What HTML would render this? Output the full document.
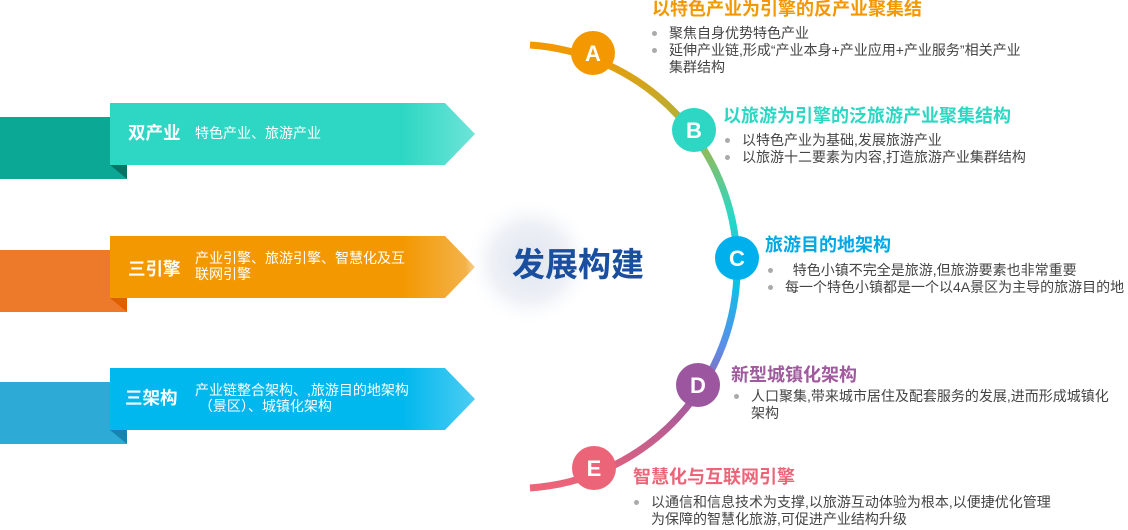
<!DOCTYPE html>
<html><head><meta charset="utf-8"><style>
body{margin:0;width:1128px;height:530px;background:#fff;position:relative;overflow:hidden;font-family:"Liberation Sans","Noto Sans CJK SC",sans-serif}
.a{position:absolute}
.t{font-weight:bold;font-size:18px;white-space:nowrap;line-height:20px}
.l{font-size:14px;color:#444;line-height:17px}
.l div{position:relative;padding-left:17px}
.l div:before{content:"";position:absolute;left:0;top:6px;width:5px;height:5px;border-radius:50%;background:#aaa}
.lab{color:#fff;font-weight:bold;font-size:17.5px;white-space:nowrap;line-height:20px}
.desc{color:#fff;font-size:14px;line-height:16px;white-space:nowrap}
</style></head><body>
<svg class="a" style="left:0;top:0" width="1128" height="530">
<defs>
<linearGradient id="g1" x1="0" x2="1"><stop offset="0.8" stop-color="#2dd7c3"/><stop offset="1" stop-color="#6ee4d8"/></linearGradient>
<linearGradient id="g2" x1="0" x2="1"><stop offset="0.8" stop-color="#f39800"/><stop offset="1" stop-color="#f3b654"/></linearGradient>
<linearGradient id="g3" x1="0" x2="1"><stop offset="0.8" stop-color="#00b7ee"/><stop offset="1" stop-color="#4ccdf2"/></linearGradient>
<linearGradient id="arc" x1="0" y1="0" x2="0" y2="1"><stop offset="0" stop-color="#f39800"/><stop offset="0.2" stop-color="#aab440"/><stop offset="0.38" stop-color="#2dd7c3"/><stop offset="0.52" stop-color="#00c8e8"/><stop offset="0.68" stop-color="#5b8ee8"/><stop offset="0.8" stop-color="#a05a9e"/><stop offset="1" stop-color="#ee6478"/></linearGradient>
<radialGradient id="glow"><stop offset="0" stop-color="#dfe4ee"/><stop offset="0.6" stop-color="#eef1f6"/><stop offset="1" stop-color="#fff" stop-opacity="0"/></radialGradient>
</defs>
<rect x="0" y="117" width="127" height="62" fill="#0ba995"/>
<polygon points="110,165 127,165 127,179" fill="#067565"/>
<polygon points="110,103 445,103 475,134 445,165 110,165" fill="url(#g1)"/>
<rect x="0" y="250" width="127" height="62" fill="#ec7a2a"/>
<polygon points="110,298 127,298 127,312" fill="#e06000"/>
<polygon points="110,236 445,236 475,267 445,298 110,298" fill="url(#g2)"/>
<rect x="0" y="382" width="127" height="62" fill="#2eaad6"/>
<polygon points="110,430 127,430 127,444" fill="#1385b0"/>
<polygon points="110,368 445,368 475,399 445,430 110,430" fill="url(#g3)"/>
<circle cx="530" cy="262" r="65" fill="url(#glow)"/>
<path d="M530,45 A222,222 0 0 1 530,488" fill="none" stroke="url(#arc)" stroke-width="7"/>
<g font-family="Liberation Sans,sans-serif" font-weight="bold" font-size="22" fill="#fff" text-anchor="middle">
<circle cx="593" cy="53" r="22" fill="#f39800"/><text x="593" y="61">A</text>
<circle cx="694" cy="130" r="22" fill="#2dd7c3"/><text x="694" y="138">B</text>
<circle cx="737" cy="258" r="22" fill="#00b0ec"/><text x="737" y="266">C</text>
<circle cx="698" cy="385" r="22" fill="#9c56a0"/><text x="698" y="393">D</text>
<circle cx="594" cy="468" r="22" fill="#ec6478"/><text x="594" y="476">E</text>
</g>
</svg>
<div class="a lab" style="left:128px;top:123px">双产业</div>
<div class="a desc" style="left:195px;top:125px">特色产业、旅游产业</div>
<div class="a lab" style="left:128px;top:259px">三引擎</div>
<div class="a desc" style="left:195px;top:250px">产业引擎、旅游引擎、智慧化及互<br>联网引擎</div>
<div class="a lab" style="left:125px;top:388px">三架构</div>
<div class="a desc" style="left:195px;top:382px">产业链整合架构、,旅游目的地架构<br>&nbsp;（景区）、城镇化架构</div>
<div class="a" style="left:512px;top:238px;font-size:33px;font-weight:bold;color:#1a4fa0;white-space:nowrap">发展构建</div>
<div class="a t" style="left:652px;top:-1px;color:#f39800">以特色产业为引擎的反产业聚集结</div>
<div class="a l" style="left:652px;top:25px"><div>聚焦自身优势特色产业</div><div style="white-space:nowrap">延伸产业链,形成“产业本身+产业应用+产业服务”相关产业<br>集群结构</div></div>
<div class="a t" style="left:723px;top:106px;color:#2dd7c3">以旅游为引擎的泛旅游产业聚集结构</div>
<div class="a l" style="left:725px;top:132px"><div>以特色产业为基础,发展旅游产业</div><div>以旅游十二要素为内容,打造旅游产业集群结构</div></div>
<div class="a t" style="left:765px;top:235px;color:#00a8e6">旅游目的地架构</div>
<div class="a l" style="left:768px;top:262px"><div>&nbsp;&nbsp;特色小镇不完全是旅游,但旅游要素也非常重要</div><div style="white-space:nowrap">每一个特色小镇都是一个以4A景区为主导的旅游目的地</div></div>
<div class="a t" style="left:731px;top:365px;color:#a05a9e">新型城镇化架构</div>
<div class="a l" style="left:734px;top:388px"><div style="width:370px">人口聚集,带来城市居住及配套服务的发展,进而形成城镇化架构</div></div>
<div class="a t" style="left:633px;top:467px;color:#ec6478">智慧化与互联网引擎</div>
<div class="a l" style="left:634px;top:494px"><div style="width:405px">以通信和信息技术为支撑,以旅游互动体验为根本,以便捷优化管理为保障的智慧化旅游,可促进产业结构升级</div></div>
</body></html>
